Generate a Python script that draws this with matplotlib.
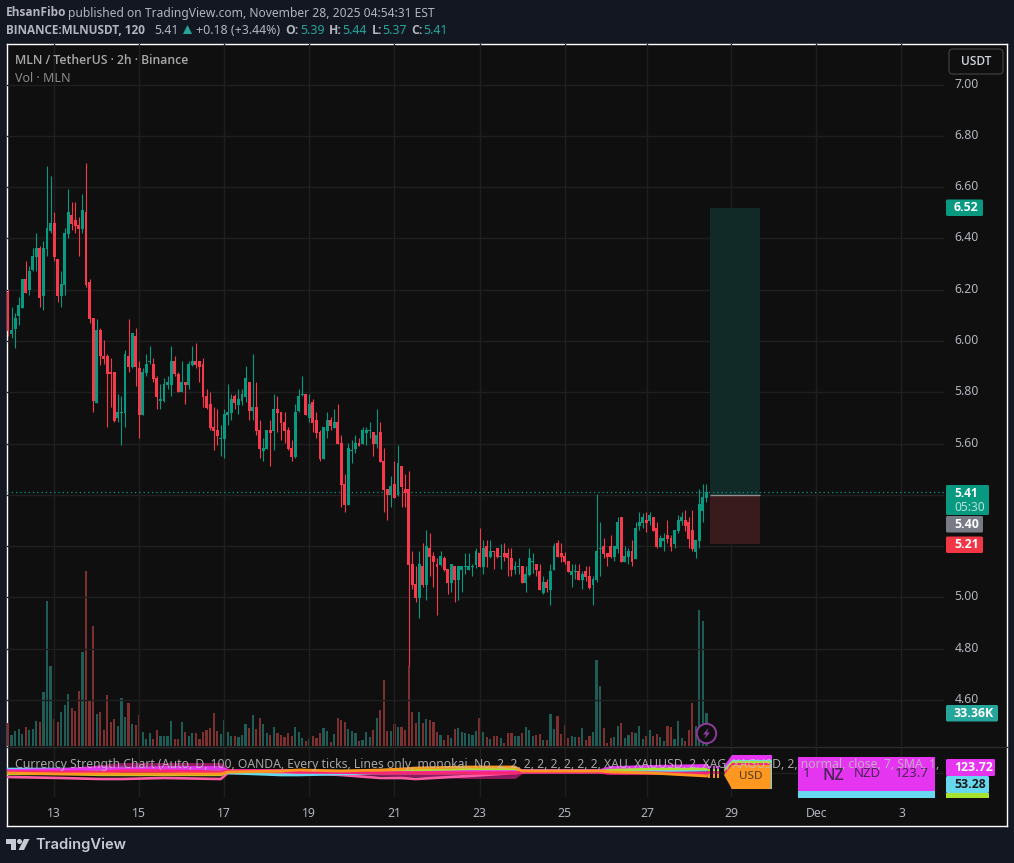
import matplotlib
matplotlib.use("Agg")
import matplotlib.pyplot as plt
from matplotlib.patches import FancyBboxPatch, Polygon, Rectangle, Circle
from matplotlib.transforms import ScaledTranslation

plt.rcParams['font.family'] = ['Noto Sans', 'DejaVu Sans']
BOLD_FAMILY = ['Open Sans', 'DejaVu Sans']

highs = [6.203,6.134,6.111,6.173,6.243,6.313,6.294,6.364,6.422,6.371,6.391,6.683,6.644,6.504,6.321,6.274,6.442,6.593,6.543,6.543,
6.484,6.574,6.694,6.243,6.091,6.084,6.052,6.002,5.951,5.932,5.881,5.792,5.784,5.963,6.084,6.033,6.052,5.924,5.893,5.951,
5.982,5.932,5.862,5.831,5.854,5.862,5.982,5.943,5.881,5.924,5.842,5.924,5.982,5.994,5.924,5.932,5.811,5.803,5.741,5.733,
5.671,5.733,5.831,5.792,5.792,5.811,5.811,5.901,5.842,5.951,5.842,5.691,5.620,5.652,5.691,5.792,5.784,5.722,5.722,5.663,
5.613,5.753,5.811,5.862,5.792,5.792,5.772,5.722,5.652,5.663,5.722,5.702,5.733,5.753,
5.633,5.481,5.602,5.613,5.633,5.621,5.664,5.664,5.683,5.644,5.734,5.683,5.582,5.422,5.473,5.531,5.594,5.512,5.481,5.492,
5.181,5.122,5.181,5.212,5.263,5.251,5.177,5.154,5.181,5.161,5.111,5.130,5.122,5.122,5.122,5.173,5.173,5.130,5.192,5.270,
5.224,5.224,5.224,5.181,5.192,5.208,5.212,5.192,5.192,5.142,5.154,5.122,5.122,5.192,5.173,5.130,5.130,5.083,5.072,5.130,
5.212,5.224,5.212,5.177,5.142,5.130,5.130,5.130,5.103,5.122,5.122,5.083,5.403,5.294,5.231,5.173,5.243,5.200,5.313,5.313,
5.200,5.192,5.224,5.294,5.333,5.329,5.333,5.333,5.313,5.294,5.243,5.251,5.302,5.243,5.263,5.321,5.333,5.341,5.313,5.341,
5.224,5.422,5.442,5.442]

lows = [6.021,6.013,5.971,6.064,6.130,6.189,6.181,6.274,6.274,6.134,6.122,6.333,6.422,6.313,6.154,6.134,6.181,6.403,6.434,6.422,
6.333,6.422,6.212,6.072,5.722,5.757,5.905,5.912,5.663,5.741,5.683,5.683,5.593,5.663,5.881,5.893,5.823,5.620,5.710,5.862,
5.912,5.842,5.733,5.733,5.761,5.811,5.784,5.862,5.800,5.800,5.753,5.811,5.901,5.893,5.842,5.741,5.733,5.652,5.574,5.593,
5.550,5.543,5.671,5.691,5.733,5.714,5.749,5.761,5.691,5.691,5.632,5.543,5.531,5.578,5.512,5.574,5.644,5.613,5.601,5.574,
5.531,5.543,5.722,5.784,5.710,5.683,5.644,5.620,5.531,5.539,5.620,5.652,5.659,5.597,
5.352,5.333,5.360,5.524,5.563,5.590,5.598,5.594,5.621,5.551,5.582,5.528,5.333,5.302,5.352,5.387,5.395,5.352,5.352,4.733,
5.033,4.982,4.920,5.040,4.990,5.083,5.040,4.931,5.122,5.103,5.013,5.021,4.982,4.990,5.021,5.091,5.107,5.083,5.115,5.118,
5.091,5.118,5.154,5.111,5.154,5.111,5.142,5.083,5.083,5.091,5.091,5.056,5.021,5.083,5.095,5.083,5.029,5.013,5.021,4.970,
5.107,5.157,5.138,5.130,5.099,5.040,5.072,5.068,5.033,5.064,5.033,4.970,5.060,5.083,5.154,5.122,5.154,5.142,5.173,5.138,
5.138,5.130,5.122,5.150,5.263,5.270,5.255,5.282,5.259,5.192,5.196,5.181,5.212,5.181,5.192,5.251,5.282,5.259,5.192,5.181,
5.154,5.192,5.294,5.372]

opens = [6.192,6.029,6.048,6.099,6.130,6.243,6.200,6.278,6.329,6.364,6.177,6.360,6.430,6.461,6.321,6.177,6.220,6.418,6.492,6.473,
6.453,6.438,6.504,6.231,6.091,5.757,6.041,5.943,5.943,5.881,5.881,5.698,5.718,5.718,5.943,5.897,6.021,5.893,5.710,5.877,
5.920,5.912,5.854,5.768,5.768,5.827,5.827,5.924,5.873,5.800,5.842,5.827,5.908,5.924,5.924,5.912,5.784,5.753,5.663,5.652,
5.617,5.617,5.710,5.718,5.784,5.749,5.768,5.780,5.842,5.729,5.741,5.652,5.570,5.578,5.652,5.648,5.733,5.722,5.683,5.652,
5.582,5.547,5.729,5.788,5.792,5.698,5.761,5.691,5.644,5.539,5.648,5.691,5.659,5.683,
5.602,5.442,5.360,5.570,5.578,5.602,5.598,5.641,5.648,5.644,5.598,5.644,5.531,5.422,5.399,5.442,5.399,5.512,5.422,5.422,
5.130,5.052,4.998,5.122,5.048,5.192,5.161,5.130,5.126,5.154,5.111,5.056,5.122,5.068,5.107,5.118,5.107,5.118,5.126,5.173,
5.118,5.200,5.157,5.181,5.192,5.157,5.173,5.173,5.154,5.107,5.118,5.122,5.056,5.087,5.138,5.130,5.103,5.017,5.060,5.029,
5.107,5.212,5.173,5.161,5.142,5.087,5.099,5.103,5.068,5.103,5.083,5.048,5.068,5.189,5.200,5.173,5.200,5.157,5.189,5.313,
5.138,5.157,5.181,5.150,5.278,5.290,5.302,5.298,5.313,5.270,5.196,5.220,5.243,5.231,5.208,5.259,5.298,5.302,5.294,5.263,
5.177,5.220,5.337,5.387]

closes = [6.038,6.041,6.091,6.142,6.243,6.189,6.274,6.333,6.364,6.169,6.364,6.442,6.461,6.329,6.177,6.224,6.422,6.504,6.457,6.449,
6.438,6.512,6.220,6.087,5.768,6.041,5.940,5.928,5.870,5.870,5.687,5.722,5.722,5.951,5.897,6.033,5.897,5.710,5.881,5.912,
5.924,5.850,5.780,5.772,5.831,5.842,5.924,5.870,5.800,5.842,5.827,5.912,5.924,5.908,5.897,5.780,5.737,5.659,5.648,5.628,
5.620,5.714,5.722,5.772,5.757,5.772,5.792,5.854,5.729,5.741,5.648,5.578,5.582,5.652,5.640,5.733,5.718,5.679,5.648,5.578,
5.547,5.722,5.784,5.792,5.710,5.753,5.679,5.640,5.539,5.663,5.691,5.667,5.683,5.597,
5.438,5.360,5.582,5.574,5.602,5.590,5.652,5.652,5.652,5.598,5.633,5.528,5.418,5.399,5.434,5.387,5.524,5.430,5.407,5.126,
5.048,4.998,5.130,5.048,5.200,5.157,5.138,5.118,5.161,5.107,5.056,5.130,5.068,5.122,5.122,5.122,5.122,5.122,5.181,5.118,
5.192,5.157,5.181,5.177,5.157,5.161,5.157,5.154,5.107,5.122,5.122,5.056,5.091,5.154,5.141,5.107,5.029,5.060,5.037,5.103,
5.200,5.157,5.157,5.138,5.099,5.103,5.103,5.068,5.091,5.079,5.037,5.072,5.181,5.192,5.169,5.157,5.157,5.200,5.294,5.138,
5.161,5.181,5.138,5.270,5.294,5.313,5.290,5.321,5.259,5.196,5.231,5.231,5.228,5.196,5.263,5.302,5.313,5.278,5.228,5.189,
5.224,5.364,5.391,5.411]

volumes_k = [23,11,15,17,12,19,16,17,25,24,54,145,80,27,24,34,41,52,38,35,55,94,175,45,120,32,34,16,51,24,27,20,48,29,43,22,21,31,14,7,
13,7,16,10,10,10,25,7,7,24,14,10,13,13,7,14,16,18,33,15,12,26,14,10,10,9,11,22,18,31,17,28,22,13,11,19,13,11,9,13,
10,19,14,8,5,7,10,8,13,18,15,4,12,28,26,24,17,15,13,5,
6,14,9,16,28,36,66,15,15,22,19,19,16,80,34,23,34,23,27,26,24,14,11,6,11,8,17,18,14,13,12,11,15,28,14,9,7,10,10,8,
3,13,13,10,10,13,19,16,10,11,12,6,6,32,17,30,12,21,8,10,9,9,18,6,10,14,86,60,18,3,8,9,20,23,8,11,14,13,20,7,
10,16,10,12,9,5,20,19,7,25,8,5,16,43,20,136,125,33.36]

tick_idx = [13,37,61,85,109,133,157,180.3,204,228,252]
tick_lab = ["13","15","17","19","21","23","25","27","29","Dec","3"]
price_ticks = [4.6,4.8,5.0,5.2,5.4,5.6,5.8,6.0,6.2,6.4,6.6,6.8,7.0]
price_labels = ["4.60","4.80","5.00","","","5.60","5.80","6.00","6.20","6.40","6.60","6.80","7.00"]

target_price = 6.52
entry_price = 5.40
stop_price = 5.21
last_price = 5.41
position_start = 198
position_end = 212.1

pane_idx = [0,15,26,32,44,60,62,77,82,94,105,111,115,130,143,145,167,170,181,197]
pane_maroon = [26,26,30,32,32,32,26,25,24,24,23,22,22,20,20,25,25,24,24,24]
pane_pink = [20,19,18,18,19,18,24,24,24,22,19,19,18,21,24,25,26,26,25,23]
pane_cyan = [28,28,27,29,27,26,24,22,22,23,24,24,24,24,25,25,25,26,26,27]
pane_magenta = [26,27,29,28,29,29,26,26,26,25,25,25,25,26,26,26,26,29,30,31]
pane_green = [23,23,22,22,22,22,25,25,26,26,26,27,27,28,28,26,26,27,28,28]
pane_red = [25,25,25,26,26,25,26,26,25,25,24,24,24,24,24,25,25,24,24,23]
pane_orange = [24,23,23,23,23,23,25,26,27,26,27,28,29,30,30,26,26,25,24,21]

n = len(highs)
assert n == len(lows) == len(opens) == len(closes) == len(volumes_k) == 198
idx = list(range(n))

W, H = 1014, 863
BG = '#0f0f0f'; FRAME = '#131722'; GRID = '#1f1f1f'; TXT = '#b2b5be'
GREEN = '#089981'; RED = '#f73a4b'
def rect(l, t, r, b):
    return [l/W, 1-b/H, (r-l)/W, (b-t)/H]

fig = plt.figure(figsize=(W/100, H/100), dpi=100, facecolor=FRAME)
XLIM = (-0.28, 264.0)
YLIM = (4.421, 7.158)

bgax = fig.add_axes(rect(7, 44, 1007, 826)); bgax.set_facecolor(BG)
bgax.set_xticks([]); bgax.set_yticks([])
for s in bgax.spines.values():
    s.set_color('white'); s.set_linewidth(1.0)

vax = fig.add_axes(rect(7, 44, 944, 746)); vax.patch.set_alpha(0)
vax.bar(idx, volumes_k, width=0.6, color=['#1f5c55' if c >= o else '#7c302f' for o, c in zip(opens, closes)])
vax.set_xlim(*XLIM); vax.set_ylim(0, 702); vax.axis('off')

ax = fig.add_axes(rect(7, 44, 944, 746)); ax.patch.set_alpha(0)
ax.set_xlim(*XLIM); ax.set_ylim(*YLIM)
ax.yaxis.tick_right()
ax.set_yticks(price_ticks, price_labels)
ax.set_xticks(tick_idx, [])
ax.tick_params(axis='y', length=0, pad=7.5, labelsize=8.8, labelcolor=TXT)
ax.tick_params(axis='x', length=0)
ax.grid(True, color=GRID, lw=1.0); ax.set_axisbelow(True)
for s in ax.spines.values():
    s.set_visible(False)
fig.canvas.draw()
up = ScaledTranslation(0, 2/100, fig.dpi_scale_trans)
for lb in ax.get_yticklabels():
    lb.set_transform(lb.get_transform() + up)

ax.fill_between([position_start, position_end], entry_price, target_price, color='#112a27', lw=0, zorder=1.5)
ax.fill_between([position_start, position_end], stop_price, entry_price, color='#391b1d', lw=0, zorder=1.5)
ax.hlines(entry_price, position_start, position_end, color='#8f8f8f', lw=1.0, zorder=1.6)
ax.axhline(last_price, color=GREEN, lw=0.9, ls=(0, (1, 2.4)), zorder=1.7)

colors = [GREEN if c >= o else RED for o, c in zip(opens, closes)]
ax.vlines(idx, lows, highs, colors=colors, lw=0.8, zorder=3)
ax.bar(idx, [abs(c-o) for o, c in zip(opens, closes)], bottom=[min(o, c) for o, c in zip(opens, closes)],
       width=0.8, color=colors, zorder=3.1, linewidth=0)

pax = fig.add_axes(rect(7, 747, 944, 797)); pax.patch.set_alpha(0)
pax.set_xlim(*XLIM); pax.set_ylim(0, 50)
pax.set_xticks(tick_idx, tick_lab); pax.set_yticks([24])
pax.set_yticklabels([])
pax.tick_params(axis='both', length=0)
pax.tick_params(axis='x', pad=7.3, labelsize=8.8, labelcolor=TXT)
pax.grid(True, color=GRID, lw=1.0); pax.set_axisbelow(True)
for s in pax.spines.values():
    s.set_visible(False)
for vals, col, lw in [(pane_maroon, '#8e1a60', 2.8), (pane_pink, '#ff5ca8', 1.9), (pane_cyan, '#66d9ef', 1.9),
                      (pane_magenta, '#e535f0', 2.8), (pane_green, '#a6e22e', 1.7), (pane_red, '#f92672', 2.4),
                      (pane_orange, '#fd971f', 2.0)]:
    pax.plot(pane_idx, vals, color=col, lw=lw, solid_joinstyle='round')

ov = fig.add_axes([0, 0, 1, 1]); ov.set_xlim(0, W); ov.set_ylim(H, 0); ov.axis('off'); ov.patch.set_alpha(0)
ov.plot([7, 1007], [746.5, 746.5], color='#2b2b2b', lw=1.0)

def T(x, y, s, size=9.0, color=TXT, weight='normal', ha='left', alpha=None, **kw):
    if weight != 'normal' and 'family' not in kw:
        kw['family'] = BOLD_FAMILY
    return ov.text(x, y, s, fontsize=size, color=color, fontweight=weight, ha=ha, va='center', alpha=alpha, **kw)

T(6, 13, "EhsanFibo", weight='bold', size=8.55)
T(68, 13, "published on TradingView.com, November 28, 2025 04:54:31 EST", size=8.7)
T(6, 30, "BINANCE:MLNUSDT, 120", weight='bold', size=8.5)
T(154, 30, "5.41", size=8.9)
ov.add_patch(Polygon([(183, 34), (192, 34), (187.5, 25)], color='#26a69a', lw=0))
T(196, 30, "+0.18 (+3.44%)", size=8.9)
for x, s in [(285, "O:"), (329, "H:"), (372, "L:"), (411, "C:")]:
    T(x, 30, s, weight='bold', size=8.7)
for x, s in [(300, "5.39"), (342, "5.44"), (382, "5.37"), (423, "5.41")]:
    T(x, 30, s, color='#26a69a', size=8.9)

T(15, 61, "MLN / TetherUS · 2h · Binance", size=8.8, color='#a8a8a8', weight='semibold')
T(15, 78, "Vol · MLN", size=9.0, color='#8a8a8a')

ov.add_patch(FancyBboxPatch((949, 49), 54, 25, boxstyle="round,pad=0,rounding_size=4", fc=BG, ec='#333333', lw=1.2))
T(976, 61.5, "USDT", size=8.6, color='#d1d4dc', ha='center', weight='semibold')

def label(l, t, r, b, col, s, tc='white', size=8.8, weight='bold'):
    ov.add_patch(FancyBboxPatch((l, t), r-l, b-t, boxstyle="round,pad=0,rounding_size=1.5", fc=col, ec='none'))
    T(l+8, (t+b)/2+0.2, s, color=tc, size=size, weight=weight)

label(946, 199.5, 983, 216, '#089981', "6.52")
ov.add_patch(FancyBboxPatch((946, 485), 43, 30, boxstyle="round,pad=0,rounding_size=1.5", fc='#089981', ec='none'))
T(954, 493.5, "5.41", color='white', size=8.6, weight='bold')
T(954, 507.5, "05:30", color='#b5e3da', size=8.6)
label(946, 516, 983, 532.5, '#787b86', "5.40")
label(946, 536.5, 983, 553, '#f23645', "5.21")
label(946, 705, 998, 721.5, '#26a69a', "33.36K")

label(946, 759, 995, 776, '#e535f0', "123.72")
label(946, 776, 989, 793, '#66d9ef', "53.28", tc='#1a1a1a')
ov.add_patch(Rectangle((946, 793), 43, 5, fc='#a6e22e', ec='none'))

ov.add_patch(Rectangle((798, 757), 137, 34, fc='#e535f0', ec='none'))
ov.add_patch(Rectangle((798, 791), 137, 7, fc='#66d9ef', ec='none'))
DK = '#4a2558'
T(807, 773, "1", color=DK, size=9.5, ha='center')
T(833, 776, "NZ", color=DK, size=11.5, ha='center', weight='semibold')
T(867, 773, "NZD", color=DK, size=9.5, ha='center')
T(912, 773, "123.7", color=DK, size=9.5, ha='center')

def arrow(top, tip, col, right=771, bottom=789):
    ov.add_patch(Polygon([(724, tip), (732, top), (right, top), (right, bottom), (732, bottom)], fc=col, ec='none', joinstyle='round'))
arrow(755, 766, '#e535f0', right=772)
arrow(760, 769, '#66d9ef', right=772)
arrow(761, 770, '#a6e22e')
arrow(763, 772, '#f92672')
arrow(765, 775, '#fd971f')
T(751, 776, "USD", color='#4a3a20', size=8.4, ha='center')

for x in [708, 712.5, 717]:
    for t, b, col in [(766, 769, '#e535f0'), (769, 771, '#a6e22e'), (771, 774, '#f92672'), (774, 778, '#fd971f')]:
        ov.add_patch(Rectangle((x, t), 2, b-t, fc=col, ec='none'))

T(15, 764.5, "Currency Strength Chart (Auto, D, 100, OANDA, Every ticks, Lines only, monokai, No, 2, 2, 2, 2, 2, 2, 2, 2, XAU, XAUUSD, 2, XAG, XAGUSD, 2, normal, close, 7, SMA, 1,",
  size=8.8, color='#c0c0c0', alpha=0.85)

ov.add_patch(Circle((706.5, 733.5), 9.7, fc=BG, ec='#8e3a9d', lw=1.4))
ov.add_patch(Polygon([(708.5, 728), (703, 734.5), (706, 734.5), (704.5, 739), (710, 732.5), (707, 732.5)], fc='#8e3a9d', ec='none'))

LG = '#c8cbd3'
ov.add_patch(Polygon([(6, 839), (16, 839), (16, 850), (11, 850), (11, 844), (6, 844)], fc=LG, ec='none'))
ov.add_patch(Circle((19.5, 841.5), 2.5, fc=LG, ec='none'))
ov.add_patch(Polygon([(24, 839), (29.5, 839), (24, 850), (18.5, 850)], fc=LG, ec='none'))
T(35, 844.5, "TradingView", size=10.6, color=LG, weight='semibold', family=['Inter', 'DejaVu Sans'])

fig.savefig('out.png', dpi=100, facecolor=FRAME)
